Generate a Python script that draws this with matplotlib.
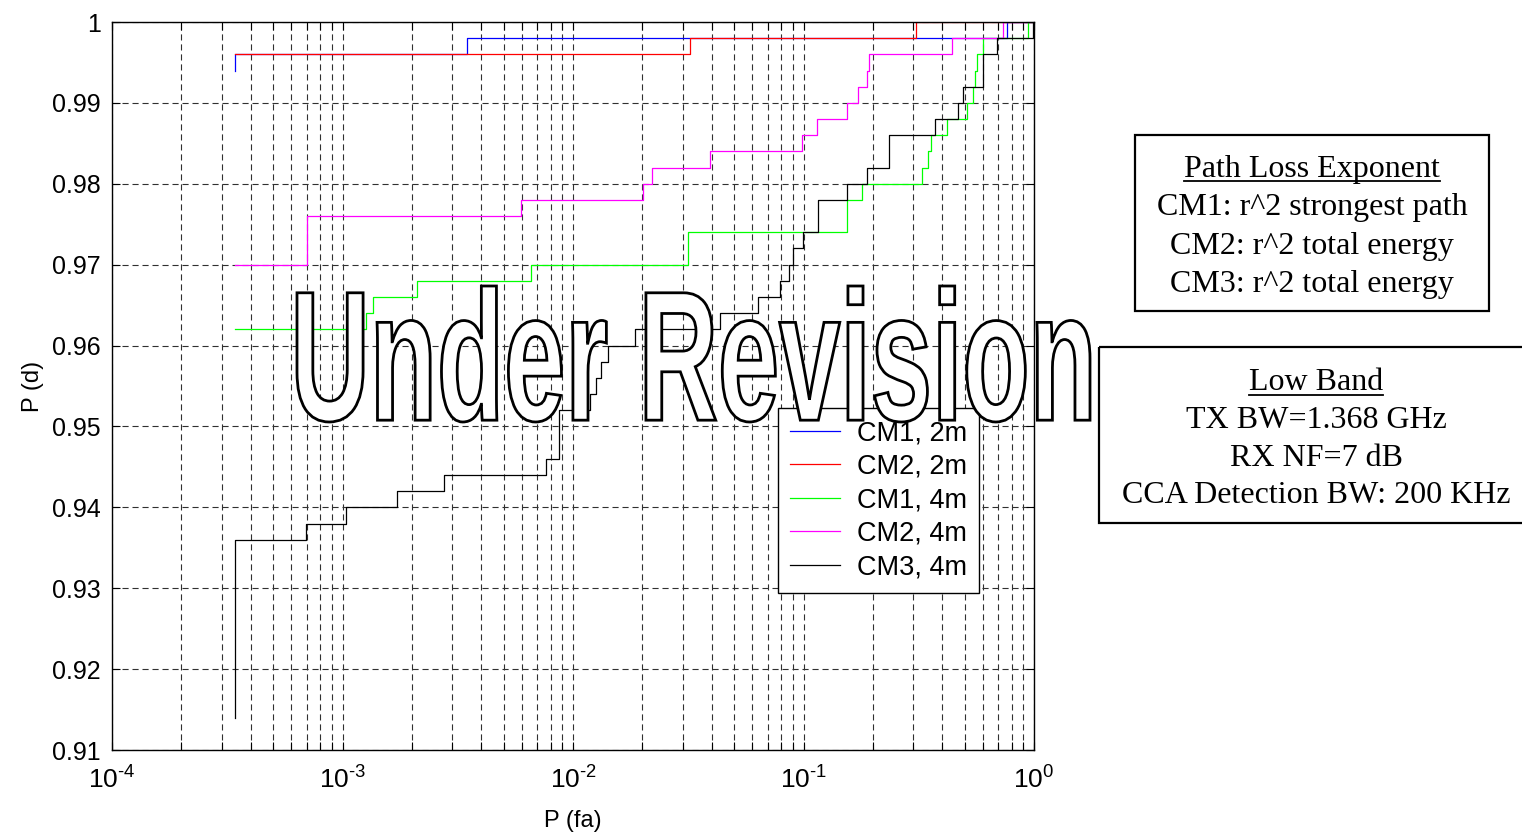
import numpy as np
import matplotlib
matplotlib.use('Agg')
from matplotlib import pyplot as plt
from matplotlib.ticker import LogLocator, FixedLocator, FixedFormatter, NullFormatter
from matplotlib.textpath import TextPath
from matplotlib.font_manager import FontProperties
from matplotlib.patches import PathPatch, Rectangle
from matplotlib.transforms import Affine2D

plt.rcParams['font.family'] = ['Liberation Sans', 'DejaVu Sans']
plt.rcParams['mathtext.fontset'] = 'custom'
plt.rcParams['mathtext.rm'] = 'Liberation Sans'
plt.rcParams['mathtext.default'] = 'regular'

# datos (P(fa) donde empieza cada escalon, P(d) del escalon)
pfa_cm1_2m = [3.43e-4, 3.43e-4, 3.47e-3, 0.764, 1.0]
pd_cm1_2m = [0.994, 0.996, 0.998, 1.0, 1.0]

pfa_cm2_2m = [3.43e-4, 0.0322, 0.308, 1.0]
pd_cm2_2m = [0.996, 0.998, 1.0, 1.0]

pfa_cm1_4m = [3.43e-4, 1.265e-3, 1.356e-3, 2.105e-3, 6.57e-3, 0.0315, 0.1544, 0.1794,
              0.3267, 0.3467, 0.3572, 0.4195, 0.5121, 0.5438, 0.5546, 0.5658, 0.6008,
              0.9419, 1.0]
pd_cm1_4m = [0.962, 0.964, 0.966, 0.968, 0.970, 0.974, 0.978, 0.980,
             0.982, 0.984, 0.986, 0.988, 0.990, 0.992, 0.994, 0.996, 0.998,
             1.0, 1.0]

pfa_cm2_4m = [3.43e-4, 7.0e-4, 5.93e-3, 0.0202, 0.0221, 0.0392, 0.0988, 0.114, 0.1544,
              0.1723, 0.1886, 0.1924, 0.4407, 0.7336, 1.0]
pd_cm2_4m = [0.970, 0.976, 0.978, 0.980, 0.982, 0.984, 0.986, 0.988, 0.990,
             0.992, 0.994, 0.996, 0.998, 1.0, 1.0]

pfa_cm3_4m = [3.43e-4, 3.43e-4, 6.95e-4, 1.036e-3, 1.723e-3, 2.756e-3, 7.64e-3, 8.70e-3,
              0.01185, 0.01258, 0.01322, 0.01418, 0.01858, 0.04342, 0.06348, 0.0791,
              0.0865, 0.0901, 0.0995, 0.1156, 0.1544, 0.1886, 0.2349, 0.3719, 0.4682,
              0.4920, 0.6008, 0.6910, 0.990, 1.0]
pd_cm3_4m = [0.914, 0.936, 0.938, 0.940, 0.942, 0.944, 0.946, 0.952,
             0.954, 0.956, 0.958, 0.960, 0.962, 0.964, 0.966, 0.968,
             0.970, 0.972, 0.974, 0.978, 0.980, 0.982, 0.986, 0.988, 0.990,
             0.992, 0.996, 0.998, 1.0, 1.0]

series_labels = ['CM1, 2m', 'CM2, 2m', 'CM1, 4m', 'CM2, 4m', 'CM3, 4m']
series_colors = ['#0000ff', '#ff0000', '#00ff00', '#ff00ff', '#000000']

x_ticks = [1e-4, 1e-3, 1e-2, 1e-1, 1]
x_tick_labels = [r'$10^{\text{-4}}$', r'$10^{\text{-3}}$', r'$10^{\text{-2}}$',
                 r'$10^{\text{-1}}$', r'$10^{0}$']
y_ticks = [0.91, 0.92, 0.93, 0.94, 0.95, 0.96, 0.97, 0.98, 0.99, 1.0]
y_tick_labels = ['0.91', '0.92', '0.93', '0.94', '0.95', '0.96', '0.97', '0.98', '0.99', '1']

box1_lines = ['Path Loss Exponent', 'CM1: r^2 strongest path',
              'CM2: r^2 total energy', 'CM3: r^2 total energy']
box2_lines = ['Low Band', 'TX BW=1.368 GHz', 'RX NF=7 dB', 'CCA Detection BW: 200 KHz']

W, H = 1522, 832
fig = plt.figure(figsize=(W / 100, H / 100), dpi=100)
ax = fig.add_axes([112 / W, 82 / H, 922 / W, 728 / H])

all_x = [pfa_cm1_2m, pfa_cm2_2m, pfa_cm1_4m, pfa_cm2_4m, pfa_cm3_4m]
all_y = [pd_cm1_2m, pd_cm2_2m, pd_cm1_4m, pd_cm2_4m, pd_cm3_4m]
for xs, ys, lab, col in zip(all_x, all_y, series_labels, series_colors):
    ax.step(xs, ys, where='post', color=col, lw=0.9, label=lab)

ax.set_xscale('log')
ax.set_xlim(1e-4, 1)
ax.set_ylim(0.91, 1.0)
ax.xaxis.set_major_locator(FixedLocator(x_ticks))
ax.xaxis.set_major_formatter(FixedFormatter(x_tick_labels))
ax.xaxis.set_minor_locator(LogLocator(base=10, subs=np.arange(2, 10)))
ax.xaxis.set_minor_formatter(NullFormatter())
ax.yaxis.set_major_locator(FixedLocator(y_ticks))
ax.yaxis.set_major_formatter(FixedFormatter(y_tick_labels))

ax.tick_params(which='both', direction='in', top=True, right=True, length=6, width=0.8)
ax.tick_params(axis='y', labelsize=18, pad=8)
ax.tick_params(axis='x', labelsize=19, pad=12)
gstyle = dict(color='#303030', lw=0.8, linestyle=(0, (5.5, 3.5)))
ax.grid(True, which='major', axis='both', **gstyle)
ax.grid(True, which='minor', axis='x', **gstyle)
for s in ax.spines.values():
    s.set_linewidth(1.0)

ax.set_xlabel('P (fa)', fontsize=17)
ax.set_ylabel('P (d)', fontsize=17)
ax.xaxis.set_label_coords(0.5, -0.082)
ax.yaxis.set_label_coords(-0.074, 0.5)

leg = ax.legend(loc='upper left', bbox_to_anchor=(778 / W, 1 - 408 / H),
                bbox_transform=fig.transFigure, fontsize=19.5, fancybox=False,
                edgecolor='k', framealpha=1, borderaxespad=0, borderpad=0.45,
                handlelength=1.85, handletextpad=0.6, labelspacing=0.28)
leg.get_frame().set_linewidth(1.0)

# capa superior en pixeles para la marca de agua y los cuadros de texto
ov = fig.add_axes([0, 0, 1, 1], zorder=5)
ov.set_xlim(0, W)
ov.set_ylim(H, 0)
ov.axis('off')

tp = TextPath((0, 0), 'Under Revision', size=100,
              prop=FontProperties(family='Liberation Sans', weight='bold'))
bb = tp.get_extents()
sx = (1090 - 297) / bb.width
sy = (422 - 286) / bb.height
tr = Affine2D().translate(-bb.x0, -bb.y1).scale(sx, -sy).translate(297, 286)
ov.add_patch(PathPatch(tr.transform_path(tp), facecolor='white', edgecolor='black',
                       lw=2.0, zorder=6))

ov.add_patch(Rectangle((1135, 135), 354, 176, fill=False, ec='k', lw=1.6, clip_on=False))
ov.add_patch(Rectangle((1099, 347), 450, 176, fill=False, ec='k', lw=1.6, clip_on=False))

serif = ['Liberation Serif', 'DejaVu Serif']
texts = []
for i, line in enumerate(box1_lines):
    t = ov.text(1312, 177 + 38.3 * i, line, ha='center', va='baseline',
                fontsize=23, family=serif)
    texts.append(t)
for i, line in enumerate(box2_lines):
    t = ov.text(1316, 390 + 37.8 * i, line, ha='center', va='baseline',
                fontsize=23, family=serif)
    texts.append(t)

fig.canvas.draw()
r = fig.canvas.get_renderer()
inv = ov.transData.inverted()
for t, yb in [(texts[0], 181), (texts[4], 394.5)]:
    e = t.get_window_extent(r)
    (x0, _), (x1, _) = inv.transform([[e.x0, e.y0], [e.x1, e.y1]])
    ov.plot([x0, x1], [yb, yb], color='k', lw=1.3)

fig.savefig('out.png', dpi=100)
